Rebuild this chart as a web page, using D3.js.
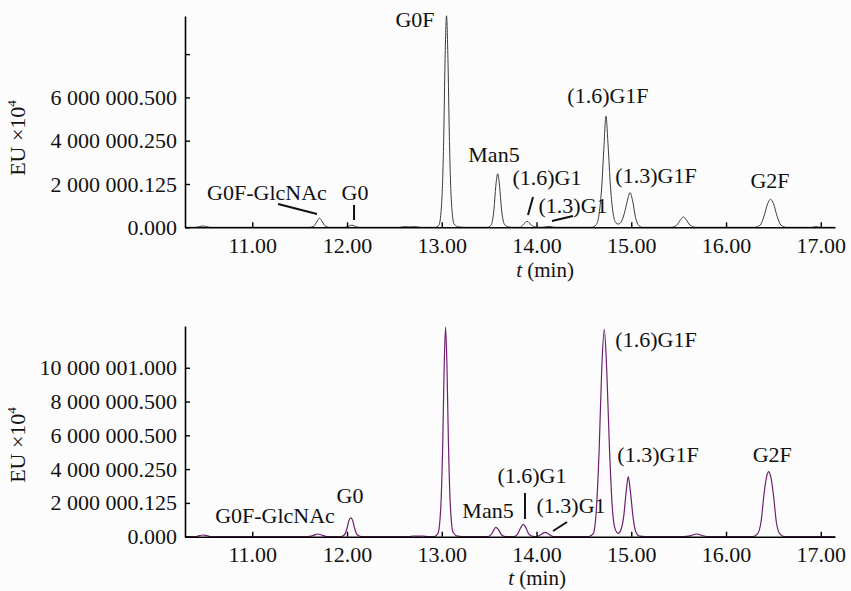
<!DOCTYPE html>
<html>
<head>
<meta charset="utf-8">
<script src="https://cdn.jsdelivr.net/npm/d3@7"></script>
<style>
  body { margin: 0; background: #fcfcfc; }
  svg { display: block; }
</style>
</head>
<body>
<svg id="chart" width="851" height="591"></svg>
<script>
const FONT = "'Liberation Serif', Tinos, 'Times New Roman', serif";

// retention time ticks (min)
const xTicks = [11, 12, 13, 14, 15, 16, 17];

// signal values are in millions of EU x10^4
const topYTicks = [0, 2, 4, 6, 8];
const topYLabels = ["0.000", "2 000 000.125", "4 000 000.250", "6 000 000.500", ""];
const bottomYTicks = [0, 2, 4, 6, 8, 10];
const bottomYLabels = ["0.000", "2 000 000.125", "4 000 000.250", "6 000 000.500", "8 000 000.500", "10 000 001.000"];

// chromatogram traces: [t, signal]
const topTrace = [
	[10.29, 0], [10.40, 0], [10.44, 0.03], [10.48, 0.06], [10.52, 0.03], [10.56, 0],
	[11.60, 0], [11.65, 0.05], [11.68, 0.25], [11.71, 0.42], [11.74, 0.25], [11.77, 0.06], [11.81, 0],
	[11.98, 0], [12.02, 0.06], [12.05, 0.1], [12.08, 0.06], [12.12, 0],
	[12.55, 0], [12.60, 0.03], [12.66, 0.02], [12.72, 0.03], [12.78, 0],
	[12.93, 0], [12.97, 0.1], [13.00, 1.2], [13.02, 4.0], [13.035, 7.8], [13.05, 9.77], [13.065, 7.8],
	[13.08, 4.2], [13.10, 1.3], [13.13, 0.15], [13.18, 0.02], [13.25, 0],
	[13.48, 0], [13.52, 0.1], [13.55, 0.8], [13.57, 1.9], [13.59, 2.47], [13.61, 1.9], [13.63, 0.85],
	[13.66, 0.15], [13.70, 0.02], [13.76, 0],
	[13.82, 0], [13.86, 0.12], [13.90, 0.28], [13.94, 0.12], [13.98, 0.02], [14.06, 0], [14.13, 0.04], [14.20, 0],
	[14.58, 0], [14.63, 0.12], [14.66, 0.6], [14.69, 2.0], [14.71, 3.6], [14.733, 5.13], [14.755, 3.8],
	[14.78, 1.9], [14.81, 0.6], [14.84, 0.2], [14.863, 0.15],
	[14.90, 0.3], [14.93, 0.7], [14.96, 1.25], [14.987, 1.6], [15.015, 1.2], [15.045, 0.45], [15.08, 0.08], [15.12, 0],
	[15.42, 0], [15.48, 0.1], [15.52, 0.35], [15.55, 0.48], [15.58, 0.35], [15.62, 0.1], [15.68, 0],
	[16.30, 0], [16.36, 0.1], [16.40, 0.5], [16.44, 1.1], [16.47, 1.29], [16.50, 1.1], [16.54, 0.5], [16.58, 0.1], [16.64, 0],
	[16.90, 0], [16.95, 0.03], [17.00, 0], [17.15, 0]
];

const bottomTrace = [
	[10.29, 0], [10.40, 0], [10.44, 0.06], [10.48, 0.1], [10.52, 0.06], [10.57, 0],
	[11.58, 0], [11.64, 0.06], [11.69, 0.16], [11.74, 0.08], [11.79, 0],
	[11.93, 0], [11.97, 0.1], [12.00, 0.5], [12.02, 0.95], [12.04, 1.12], [12.06, 0.95], [12.08, 0.5], [12.11, 0.1], [12.16, 0],
	[12.65, 0], [12.70, 0.04], [12.75, 0.03], [12.80, 0.04], [12.86, 0],
	[12.92, 0], [12.96, 0.2], [12.99, 1.8], [13.01, 5.5], [13.025, 10.0], [13.04, 12.4], [13.055, 10.0],
	[13.07, 5.6], [13.09, 1.9], [13.12, 0.25], [13.17, 0.03], [13.25, 0],
	[13.48, 0], [13.52, 0.12], [13.55, 0.4], [13.57, 0.55], [13.60, 0.4], [13.63, 0.12], [13.68, 0],
	[13.76, 0], [13.80, 0.15], [13.83, 0.5], [13.86, 0.73], [13.89, 0.5], [13.92, 0.15], [13.96, 0.02],
	[14.00, 0], [14.05, 0.15], [14.09, 0.26], [14.13, 0.15], [14.18, 0],
	[14.55, 0], [14.60, 0.2], [14.63, 1.5], [14.66, 5.0], [14.69, 10.2], [14.715, 12.27], [14.74, 10.0],
	[14.77, 5.2], [14.80, 1.7], [14.83, 0.45], [14.863, 0.2],
	[14.89, 0.4], [14.92, 1.2], [14.945, 2.6], [14.968, 3.55], [14.99, 2.7], [15.02, 1.1], [15.05, 0.25], [15.09, 0.03], [15.15, 0],
	[15.55, 0], [15.62, 0.05], [15.69, 0.16], [15.76, 0.05], [15.82, 0],
	[16.28, 0], [16.33, 0.15], [16.37, 0.9], [16.40, 2.5], [16.43, 3.6], [16.45, 3.85], [16.47, 3.6],
	[16.50, 2.5], [16.53, 0.9], [16.57, 0.15], [16.62, 0],
	[17.15, 0]
];

// peak names
const topPeakNames = ["G0F", "Man5", "(1.6)G1", "(1.3)G1", "(1.6)G1F", "(1.3)G1F", "G2F", "G0F-GlcNAc", "G0"];
const bottomPeakNames = ["G0F-GlcNAc", "G0", "Man5", "(1.6)G1", "(1.3)G1", "(1.6)G1F", "(1.3)G1F", "G2F"];

// layout: where the labels and leader lines sit, in data units [t, signal]
const panels = [
	{
		trace: topTrace, yTicks: topYTicks, yLabels: topYLabels, yMax: 9.76,
		base: 227.3, top: 16, color: "#3c3c3c", width: 1,
		names: topPeakNames,
		spots: [[12.717, 9.25], [13.551, 3.016], [14.11, 1.954], [14.385, 0.66], [14.754, 5.74],
			[15.261, 2.046], [16.464, 1.815], [11.155, 1.26], [12.084, 1.26]],
		leaders: [[11.272, 1.076, 11.683, 0.614], [12.074, 1.03, 12.074, 0.337],
			[13.963, 1.40, 13.91, 0.568], [14.163, 0.291, 14.385, 0.522]],
		titleY: 138, xTitleX: 545, xTitleY: 277
	},
	{
		trace: bottomTrace, yTicks: bottomYTicks, yLabels: bottomYLabels, yMax: 12.47,
		base: 536.7, top: 326, color: "#6e1f70", width: 1.2,
		names: bottomPeakNames,
		spots: [[11.24, 0.81], [12.031, 1.99], [13.488, 1.11], [13.952, 3.17], [14.364, 1.40],
			[15.261, 11.22], [15.282, 4.42], [16.488, 4.42]],
		leaders: [[13.878, 2.586, 13.878, 1.047], [14.174, 0.337, 14.322, 0.87]],
		titleY: 445, xTitleX: 537, xTitleY: 585
	}
];

const svg = d3.select('#chart');
svg.append('rect').attr('width', 851).attr('height', 591).attr('fill', '#fcfcfc');

const x = d3.scaleLinear()
	.domain([10.29, 17.15])
	.range([185, 835]);

panels.forEach(p => {
	const y = d3.scaleLinear()
		.domain([0, p.yMax])
		.range([p.base, p.top]);

	const g = svg.append('g');

	const trace = d3.line()
		.x(d => x(d[0]))
		.y(d => y(d[1]))
		.curve(d3.curveMonotoneX);

	g.append('path')
		.datum(p.trace)
		.attr('fill', 'none')
		.attr('stroke', p.color)
		.attr('stroke-width', p.width)
		.attr('d', trace);

	const xAxis = d3.axisBottom(x)
		.tickValues(xTicks)
		.tickFormat(d3.format('.2f'))
		.tickSizeInner(-5)
		.tickSizeOuter(0)
		.tickPadding(10);

	const yAxis = d3.axisLeft(y)
		.tickValues(p.yTicks)
		.tickFormat((d, i) => p.yLabels[i])
		.tickSizeInner(-5)
		.tickSizeOuter(0)
		.tickPadding(8);

	[
		g.append('g').attr('transform', `translate(0, ${p.base})`).call(xAxis),
		g.append('g').attr('transform', 'translate(185, 0)').call(yAxis)
	].forEach(a => {
		a.attr('font-size', null).attr('font-family', null);
		a.select('.domain').attr('stroke', '#000').attr('stroke-width', 1.6);
		a.selectAll('.tick line').attr('stroke', '#000').attr('stroke-width', 1.4);
		a.selectAll('.tick text')
			.attr('fill', '#111')
			.style('font-family', FONT)
			.style('font-size', '22px');
	});

	// peak labels
	g.append('g')
		.selectAll('text')
		.data(p.names)
		.enter().append('text')
		.attr('x', (d, i) => x(p.spots[i][0]))
		.attr('y', (d, i) => y(p.spots[i][1]))
		.attr('text-anchor', 'middle')
		.attr('fill', '#111')
		.style('font-family', FONT)
		.style('font-size', '22px')
		.text(d => d);

	g.append('g')
		.selectAll('line')
		.data(p.leaders)
		.enter().append('line')
		.attr('x1', d => x(d[0]))
		.attr('y1', d => y(d[1]))
		.attr('x2', d => x(d[2]))
		.attr('y2', d => y(d[3]))
		.attr('stroke', '#111')
		.attr('stroke-width', 2);

	// axis titles
	const yt = g.append('text')
		.attr('transform', `translate(25, ${p.titleY}) rotate(-90)`)
		.attr('text-anchor', 'middle')
		.attr('fill', '#111')
		.style('font-family', FONT)
		.style('font-size', '22px');
	yt.append('tspan').text('EU \u00d710');
	yt.append('tspan').attr('dy', -9).style('font-size', '13px').text('4');

	const xt = g.append('text')
		.attr('x', p.xTitleX)
		.attr('y', p.xTitleY)
		.attr('text-anchor', 'middle')
		.attr('fill', '#111')
		.style('font-family', FONT)
		.style('font-size', '21px');
	xt.append('tspan').style('font-style', 'italic').text('t');
	xt.append('tspan').text(' (min)');
});
</script>
</body>
</html>
